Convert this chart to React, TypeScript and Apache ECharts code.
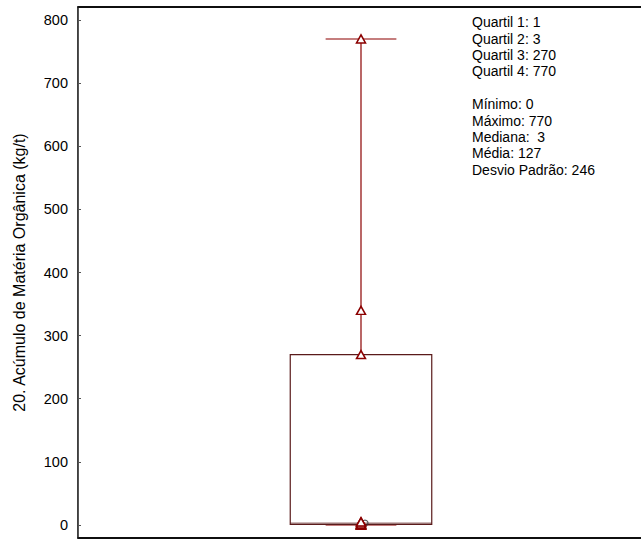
import React, { useEffect, useRef } from "react";
import * as echarts from "echarts";

const categories = ["A"];
const yAxisTitle = "20. Acúmulo de Matéria Orgânica (kg/t)";
// individual observations
const samples = [0, 0, 0, 1, 1, 3, 5, 5, 270, 340, 770];
// min, Q1, median, Q3, max
const boxStats = [0, 1, 3, 270, 770];
const yTicks = [0, 100, 200, 300, 400, 500, 600, 700, 800];
const quartileNames = ["Quartil 1", "Quartil 2", "Quartil 3", "Quartil 4"];
const quartileValues = [1, 3, 270, 770];
const summaryNames = ["Mínimo", "Máximo", "Mediana", "Média", "Desvio Padrão"];
const summarySeparators = [": ", ": ", ":  ", ": ", ": "];
const summaryValues = [0, 770, 3, 127, 246];

const FONT = "'Liberation Sans', Arial, sans-serif";

export default function App() {
  const ref = useRef<HTMLDivElement>(null);
  useEffect(() => {
    if (!ref.current) return;
    const chart = echarts.init(ref.current, null, { renderer: "svg" });
    const textLines = [
      ...quartileNames.map((n, i) => `${n}: ${quartileValues[i]}`),
      "",
      ...summaryNames.map((n, i) => `${n}${summarySeparators[i]}${summaryValues[i]}`),
    ];
    chart.setOption({
      animation: false,
      grid: {
        left: 78,
        width: 566,
        top: 7,
        bottom: 2,
        containLabel: false,
        outerBoundsMode: "none",
        show: true,
        borderColor: "#000",
        borderWidth: 1.5,
        backgroundColor: "transparent",
      },
      xAxis: [
        {
          type: "category",
          data: categories,
          position: "bottom",
          axisLine: { show: true, onZero: false, lineStyle: { color: "#000", width: 1.5 } },
          axisTick: { show: false },
          axisLabel: { show: false },
          splitLine: { show: false },
        },
        {
          type: "category",
          data: categories,
          position: "top",
          axisLine: { show: true, onZero: false, lineStyle: { color: "#000", width: 1.5 } },
          axisTick: { show: false },
          axisLabel: { show: false },
          splitLine: { show: false },
        },
      ],
      yAxis: {
        type: "value",
        min: -20.6,
        max: 820.6,
        name: yAxisTitle,
        nameLocation: "middle",
        nameGap: 51,
        nameRotate: 90,
        nameTextStyle: { color: "#000", fontSize: 16, fontFamily: FONT },
        axisLine: { show: true, onZero: false, lineStyle: { color: "#555", width: 1 } },
        axisTick: { show: true, inside: true, length: 3, customValues: yTicks, lineStyle: { color: "#555" } },
        axisLabel: { customValues: yTicks, color: "#000", fontSize: 14.5, fontFamily: FONT, margin: 10 },
        splitLine: { show: false },
      },
      graphic: [
        {
          type: "text",
          left: 472,
          top: 14,
          style: {
            text: textLines.join("\n"),
            fontSize: 14,
            fontFamily: FONT,
            fill: "#000",
            lineHeight: 16.4,
          },
        },
      ],
      series: [
        {
          type: "custom",
          xAxisIndex: 0,
          encode: { x: 0, y: [1, 2, 3, 4, 5] },
          data: [[0, ...boxStats]],
          renderItem: (params: any, api: any) => {
            const xi = api.value(0);
            const c = (v: number) => api.coord([xi, v]);
            const band = api.size([1, 0])[0];
            const bw = band * 0.25;
            const cw = band * 0.125;
            const mn = c(api.value(1));
            const q1 = c(api.value(2));
            const md = c(api.value(3));
            const q3 = c(api.value(4));
            const mx = c(api.value(5));
            const cx = mn[0];
            const whisk = { stroke: "#8b0000", lineWidth: 1.2 };
            const cap = { stroke: "rgba(150,20,20,0.55)", lineWidth: 2 };
            const box = { stroke: "#5a1a1a", lineWidth: 1.2 };
            return {
              type: "group",
              children: [
                { type: "line", shape: { x1: cx, y1: q3[1], x2: cx, y2: mx[1] }, style: whisk },
                { type: "line", shape: { x1: cx, y1: mn[1], x2: cx, y2: q1[1] }, style: whisk },
                { type: "line", shape: { x1: cx - cw / 2, y1: mx[1], x2: cx + cw / 2, y2: mx[1] }, style: cap },
                { type: "line", shape: { x1: cx - cw / 2, y1: mn[1], x2: cx + cw / 2, y2: mn[1] }, style: cap },
                {
                  type: "rect",
                  shape: { x: cx - bw / 2, y: q3[1], width: bw, height: q1[1] - q3[1] },
                  style: { fill: "rgba(0,0,0,0)", ...box },
                },
                { type: "line", shape: { x1: cx - bw / 2, y1: md[1], x2: cx + bw / 2, y2: md[1] }, style: { stroke: "rgba(90,26,26,0.6)", lineWidth: 1.2 } },
              ],
            };
          },
          z: 2,
        },
        {
          type: "scatter",
          xAxisIndex: 0,
          data: samples.map((v) => [0, v]),
          symbol: "triangle",
          symbolSize: [9, 8],
          itemStyle: { color: "#fff", borderColor: "#8b0000", borderWidth: 1.5, opacity: 1 },
          z: 3,
        },
        {
          type: "scatter",
          xAxisIndex: 1,
          data: [[0, boxStats[2]]],
          symbol: "circle",
          symbolSize: 6,
          symbolOffset: [4, 0],
          itemStyle: { color: "rgba(0,0,0,0)", borderColor: "#333", borderWidth: 1.2 },
          z: 2,
        },
      ],
    });
    return () => chart.dispose();
  }, []);
  return <div ref={ref} style={{ position: "absolute", left: 0, top: 0, width: 641, height: 540 }} />;
}
